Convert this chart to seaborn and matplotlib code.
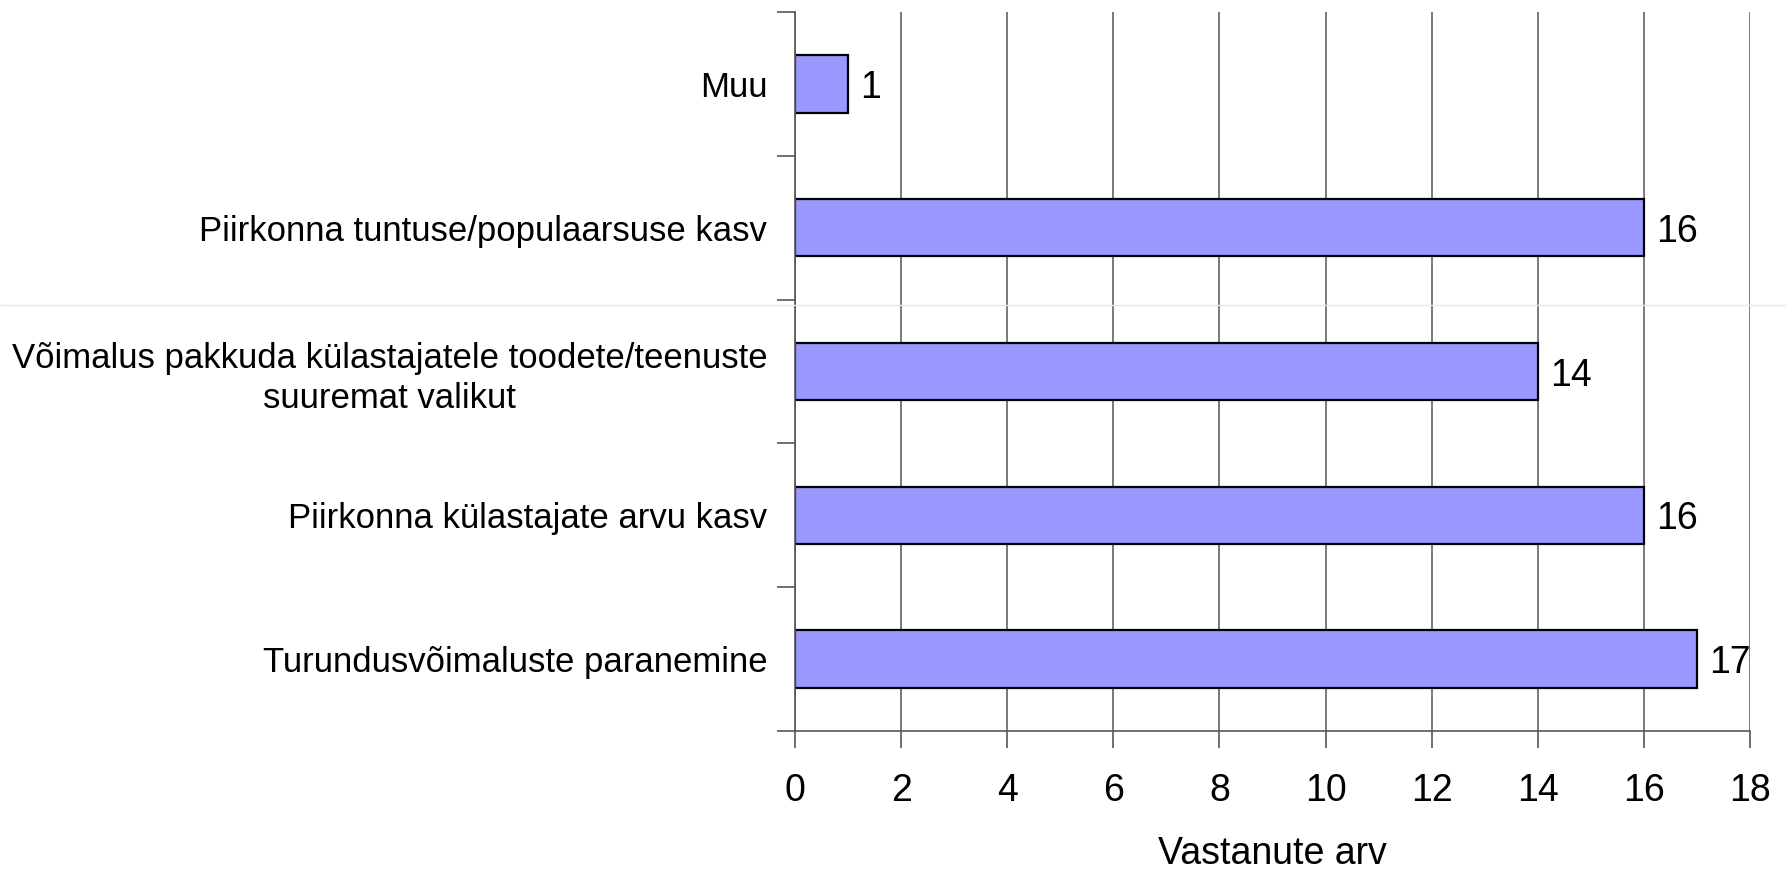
import numpy as np
import matplotlib
matplotlib.use("Agg")
import matplotlib.pyplot as plt
import seaborn as sns
import pandas as pd
from matplotlib.lines import Line2D

# data, top to bottom as shown in the chart
categories = [
    "Muu",
    "Piirkonna tuntuse/populaarsuse kasv",
    "Võimalus pakkuda külastajatele toodete/teenuste\nsuuremat valikut",
    "Piirkonna külastajate arvu kasv",
    "Turundusvõimaluste paranemine",
]
counts = [1, 16, 14, 16, 17]
x_ticks = [0, 2, 4, 6, 8, 10, 12, 14, 16, 18]

df = pd.DataFrame({"Kategooria": categories, "Vastanute arv": counts})

sns.set_style("white")
plt.rcParams["font.family"] = ["Liberation Sans", "DejaVu Sans"]
plt.rcParams["text.color"] = "black"
plt.rcParams["xtick.labelcolor"] = "black"
plt.rcParams["ytick.labelcolor"] = "black"
plt.rcParams["axes.labelcolor"] = "black"

fig = plt.figure(figsize=(17.87, 8.69), dpi=100)
ax = fig.add_axes([795 / 1787, 1 - 731 / 869, 955 / 1787, 719 / 869])

sns.barplot(data=df, y="Kategooria", x="Vastanute arv", color="#9999FF",
            edgecolor="black", linewidth=1.6, width=0.4, saturation=1, ax=ax)

# value labels at bar ends
value_labels = ax.bar_label(ax.containers[0], padding=9, fontsize=27, color="black")
for t in value_labels:
    t.set_verticalalignment("center_baseline")

ax.set_xlim(0, 18)
ax.set_xticks(x_ticks)
ax.set_ylim(4.5, -0.5)

# tick marks between categories instead of at the labels
ax.set_yticks(np.arange(-0.5, len(categories), 1), minor=True)
ax.tick_params(axis="y", which="major", length=0, pad=20, labelsize=25)
ax.tick_params(axis="y", which="minor", length=13, width=1.2, color="#555555", direction="out", left=True)
ax.tick_params(axis="x", which="major", length=12, width=1.2, color="#555555", direction="out", bottom=True,
               pad=18, labelsize=27)
for lbl in ax.get_yticklabels():
    lbl.set_multialignment("center")
    lbl.set_linespacing(1.25)

ax.set_ylabel("")
ax.set_xlabel("Vastanute arv", fontsize=27, labelpad=20)

# vertical grid lines
ax.xaxis.grid(True, color="#555555", linewidth=1.1)
ax.yaxis.grid(False)
ax.set_axisbelow(True)

for side in ["top", "right"]:
    ax.spines[side].set_visible(False)
for side in ["left", "bottom"]:
    ax.spines[side].set_color("#555555")
    ax.spines[side].set_linewidth(1.2)

# faint separator line seen in the original image
fig.add_artist(Line2D([0, 1], [1 - 305 / 869, 1 - 305 / 869], transform=fig.transFigure,
                      color="#e6e6e6", linewidth=1))

plt.savefig("out.png", dpi=100)
plt.close()
